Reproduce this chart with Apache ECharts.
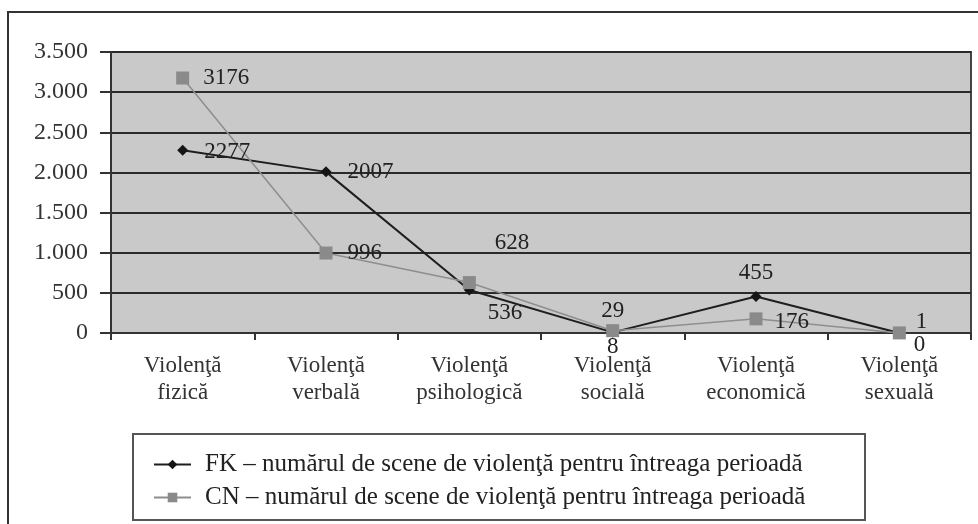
<!DOCTYPE html>
<html style="height: 100%">
<head>
    <meta charset="utf-8">
</head>
<body style="height: 100%; margin: 0; background: #fff">
<div id="container" style="width: 978px; height: 524px"></div>
<script type="text/javascript" src="https://cdn.jsdelivr.net/npm/echarts@6/dist/echarts.min.js"></script>
<script type="text/javascript">
    var categories = ['Violenţă\nfizică', 'Violenţă\nverbală', 'Violenţă\npsihologică',
        'Violenţă\nsocială', 'Violenţă\neconomică', 'Violenţă\nsexuală'];
    var fkName = 'FK – numărul de scene de violenţă pentru întreaga perioadă';
    var cnName = 'CN – numărul de scene de violenţă pentru întreaga perioadă';
    var fkValues = [2277, 2007, 536, 8, 455, 0];
    var cnValues = [3176, 996, 628, 29, 176, 1];
    var yTicks = [0, 500, 1000, 1500, 2000, 2500, 3000, 3500];

    // where each value label sits relative to its point
    var fkLabels = [
        {position: 'right', offset: [11, 2]},
        {position: 'right', offset: [11, 0]},
        {position: 'right', offset: [8, 23]},
        {position: 'bottom', offset: [0, -7]},
        {position: 'top', offset: [0, -2]},
        {position: 'right', offset: [4, 12]}
    ];
    var cnLabels = [
        {position: 'right', offset: [9, 0]},
        {position: 'right', offset: [10, 0]},
        {position: 'right', offset: [14, -40]},
        {position: 'top', offset: [0, 3]},
        {position: 'right', offset: [7, 3]},
        {position: 'right', offset: [5, -11]}
    ];

    var serif = 'Liberation Serif';

    function withLabels(values, labels) {
        return values.map(function (v, i) {
            return {value: v, label: labels[i]};
        });
    }

    function dotted(v) {
        return String(v).replace(/\B(?=(\d{3})+(?!\d))/g, '.');
    }

    var dom = document.getElementById("container");
    var myChart = echarts.init(dom);
    var option = {
        animation: false,
        backgroundColor: '#fff',
        textStyle: {fontFamily: serif},
        grid: {
            left: 111, right: 7, top: 52, bottom: 191,
            show: true,
            backgroundColor: '#c9c9c9',
            borderColor: '#444',
            borderWidth: 2
        },
        legend: {
            orient: 'vertical',
            left: 148,
            top: 447,
            itemWidth: 37,
            itemHeight: 12,
            itemGap: 8,
            textStyle: {fontFamily: serif, fontSize: 25, color: '#222', padding: [0, 0, 0, 9]},
            data: [fkName, cnName]
        },
        xAxis: {
            type: 'category',
            data: categories,
            boundaryGap: true,
            axisLine: {lineStyle: {color: '#333', width: 2}},
            axisTick: {show: true, length: 7, lineStyle: {color: '#333', width: 2}},
            axisLabel: {
                interval: 0, margin: 19, fontFamily: serif, fontSize: 23,
                lineHeight: 27, color: '#333'
            }
        },
        yAxis: {
            type: 'value',
            min: yTicks[0],
            max: yTicks[yTicks.length - 1],
            interval: 500,
            axisLine: {show: true, lineStyle: {color: '#333', width: 2}},
            axisTick: {show: true, length: 11, lineStyle: {color: '#333', width: 2}},
            splitLine: {lineStyle: {color: '#2a2a2a', width: 2}},
            axisLabel: {
                margin: 23, fontFamily: serif, fontSize: 24, color: '#333',
                formatter: dotted
            }
        },
        series: [
            {
                name: fkName,
                type: 'line',
                data: withLabels(fkValues, fkLabels),
                symbol: 'diamond',
                symbolSize: 11,
                itemStyle: {color: '#151515'},
                lineStyle: {color: '#1e1e1e', width: 2},
                label: {show: true, fontFamily: serif, fontSize: 23, color: '#222', distance: 5}
            },
            {
                name: cnName,
                type: 'line',
                data: withLabels(cnValues, cnLabels),
                symbol: 'rect',
                symbolSize: 13,
                itemStyle: {color: '#8a8a8a'},
                lineStyle: {color: '#8e8e8e', width: 1.5},
                label: {show: true, fontFamily: serif, fontSize: 23, color: '#222', distance: 5}
            }
        ],
        graphic: [
            {
                type: 'rect',
                shape: {x: 8, y: 12, width: 1000, height: 700},
                style: {fill: 'none', stroke: '#333', lineWidth: 2},
                silent: true
            },
            {
                type: 'rect',
                shape: {x: 133, y: 434, width: 732, height: 86},
                style: {fill: 'none', stroke: '#555', lineWidth: 2},
                silent: true
            }
        ]
    };

    if (option && typeof option === "object") {
        myChart.setOption(option, true);
    }
</script>
</body>
</html>
